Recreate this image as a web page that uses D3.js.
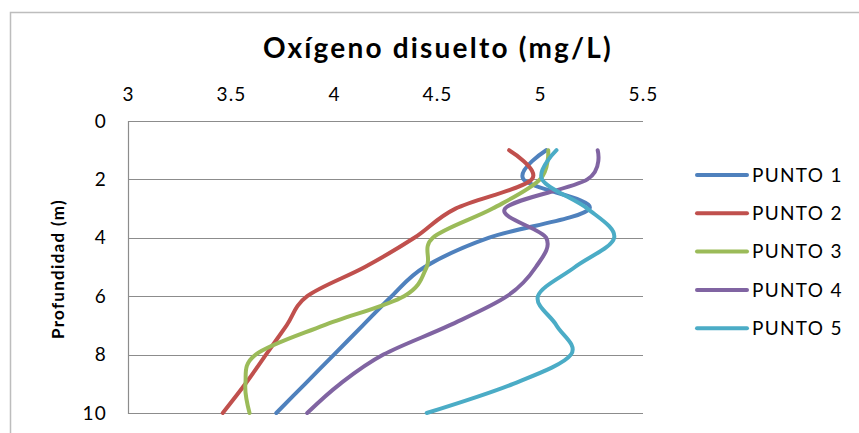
<!DOCTYPE html>
<html>
<head>
<meta charset="utf-8">
<script src="https://cdn.jsdelivr.net/npm/d3@7"></script>
<style>
  html, body { margin: 0; padding: 0; background: #fff; }
  svg { display: block; }
  text { font-family: Lato, "Open Sans", sans-serif; fill: #000; }
</style>
</head>
<body>
<svg id="chart" width="859" height="433"></svg>
<script>
// Dissolved oxygen profiles (mg/L) by depth (m) at five sampling points
const depths = [1, 2, 3, 4, 5, 6, 7, 8, 9, 10];
const seriesNames = ["PUNTO 1", "PUNTO 2", "PUNTO 3", "PUNTO 4", "PUNTO 5"];
const punto1 = [5.03, 4.92, 5.24, 4.75, 4.44, 4.28, 4.14, 4.00, 3.86, 3.72];
const punto2 = [4.85, 4.96, 4.59, 4.39, 4.15, 3.87, 3.77, 3.67, 3.57, 3.46];
const punto3 = [5.04, 5.00, 4.77, 4.48, 4.45, 4.34, 3.95, 3.62, 3.57, 3.59];
const punto4 = [5.28, 5.23, 4.83, 5.03, 4.98, 4.84, 4.56, 4.24, 4.03, 3.87];
const punto5 = [5.08, 5.01, 5.23, 5.36, 5.17, 4.99, 5.08, 5.15, 4.87, 4.45];
const seriesValues = [punto1, punto2, punto3, punto4, punto5];
const colors = ["#4F81BD", "#C0504D", "#9BBB59", "#8064A2", "#4BACC6"];
const xTicks = [3, 3.5, 4, 4.5, 5, 5.5];
const yTicks = [0, 2, 4, 6, 8, 10];

const svg = d3.select("#chart");

// Chart-area frame
svg.append("path")
  .attr("d", "M10.5,440 V12.5 H870")
  .attr("fill", "none")
  .attr("stroke", "#BDBDBD")
  .attr("stroke-width", 1.5);

const plot = { left: 128, right: 643, top: 121, bottom: 413 };

const x = d3.scaleLinear().domain([3, 5.5]).range([plot.left, plot.right]);
const y = d3.scaleLinear().domain([0, 10]).range([plot.top, plot.bottom]);

// Horizontal gridlines
svg.append("g")
  .selectAll("line")
  .data(yTicks)
  .join("line")
  .attr("x1", plot.left)
  .attr("x2", plot.right)
  .attr("y1", d => Math.round(y(d)) + 0.5)
  .attr("y2", d => Math.round(y(d)) + 0.5)
  .attr("stroke", "#8C8C8C")
  .attr("stroke-width", 1.2);

// Depth axis line
svg.append("line")
  .attr("x1", plot.left + 0.5).attr("x2", plot.left + 0.5)
  .attr("y1", plot.top).attr("y2", plot.bottom + 1)
  .attr("stroke", "#8C8C8C")
  .attr("stroke-width", 1.2);

const tickStyle = sel => sel
  .style("font-family", "Lato, 'Open Sans', sans-serif")
  .style("font-size", "19px")
  .style("letter-spacing", "1.2px")
  .attr("fill", "#222");

// Top axis labels (oxygen)
const xAxis = d3.axisTop(x).tickValues(xTicks).tickSize(0).tickPadding(0)
  .tickFormat(d => String(d));
const gx = svg.append("g")
  .attr("transform", `translate(0,${plot.top - 20})`)
  .call(xAxis);
gx.select(".domain").remove();
gx.selectAll("text").call(tickStyle);

// Left axis labels (depth)
const yAxis = d3.axisLeft(y).tickValues(yTicks).tickSize(0).tickPadding(0);
const gy = svg.append("g")
  .attr("transform", `translate(${plot.left - 21},0)`)
  .call(yAxis);
gy.select(".domain").remove();
gy.selectAll("text").call(tickStyle);

// Title
svg.append("text")
  .attr("x", 438)
  .attr("y", 58)
  .attr("text-anchor", "middle")
  .style("font-size", "28px")
  .style("font-weight", "bold")
  .style("letter-spacing", "2.2px")
  .text("Oxígeno disuelto (mg/L)");

// Depth axis title
svg.append("text")
  .attr("transform", "translate(64,269) rotate(-90)")
  .attr("text-anchor", "middle")
  .style("font-size", "17px")
  .style("font-weight", "bold")
  .style("letter-spacing", "1.3px")
  .text("Profundidad (m)");

// Profiles
const line = d3.line()
  .x(d => x(d.v))
  .y(d => y(d.depth))
  .curve(d3.curveCatmullRom.alpha(0));

const profiles = seriesNames.map((name, i) => ({
  name,
  color: colors[i],
  points: depths.map((depth, j) => ({ depth, v: seriesValues[i][j] }))
}));

svg.append("g")
  .selectAll("path")
  .data(profiles)
  .join("path")
  .attr("d", d => line(d.points))
  .attr("fill", "none")
  .attr("stroke", d => d.color)
  .attr("stroke-width", 4)
  .attr("stroke-linecap", "round")
  .attr("stroke-linejoin", "round");

// Legend
const legend = svg.append("g")
  .selectAll("g")
  .data(profiles)
  .join("g")
  .attr("transform", (d, i) => `translate(697,${175 + i * 38.3})`);

legend.append("line")
  .attr("x1", 0).attr("x2", 50)
  .attr("stroke", d => d.color)
  .attr("stroke-width", 4)
  .attr("stroke-linecap", "round");

legend.append("text")
  .attr("x", 55)
  .attr("dy", "0.35em")
  .style("font-size", "19px")
  .style("letter-spacing", "1.3px")
  .text(d => d.name);
</script>
</body>
</html>
